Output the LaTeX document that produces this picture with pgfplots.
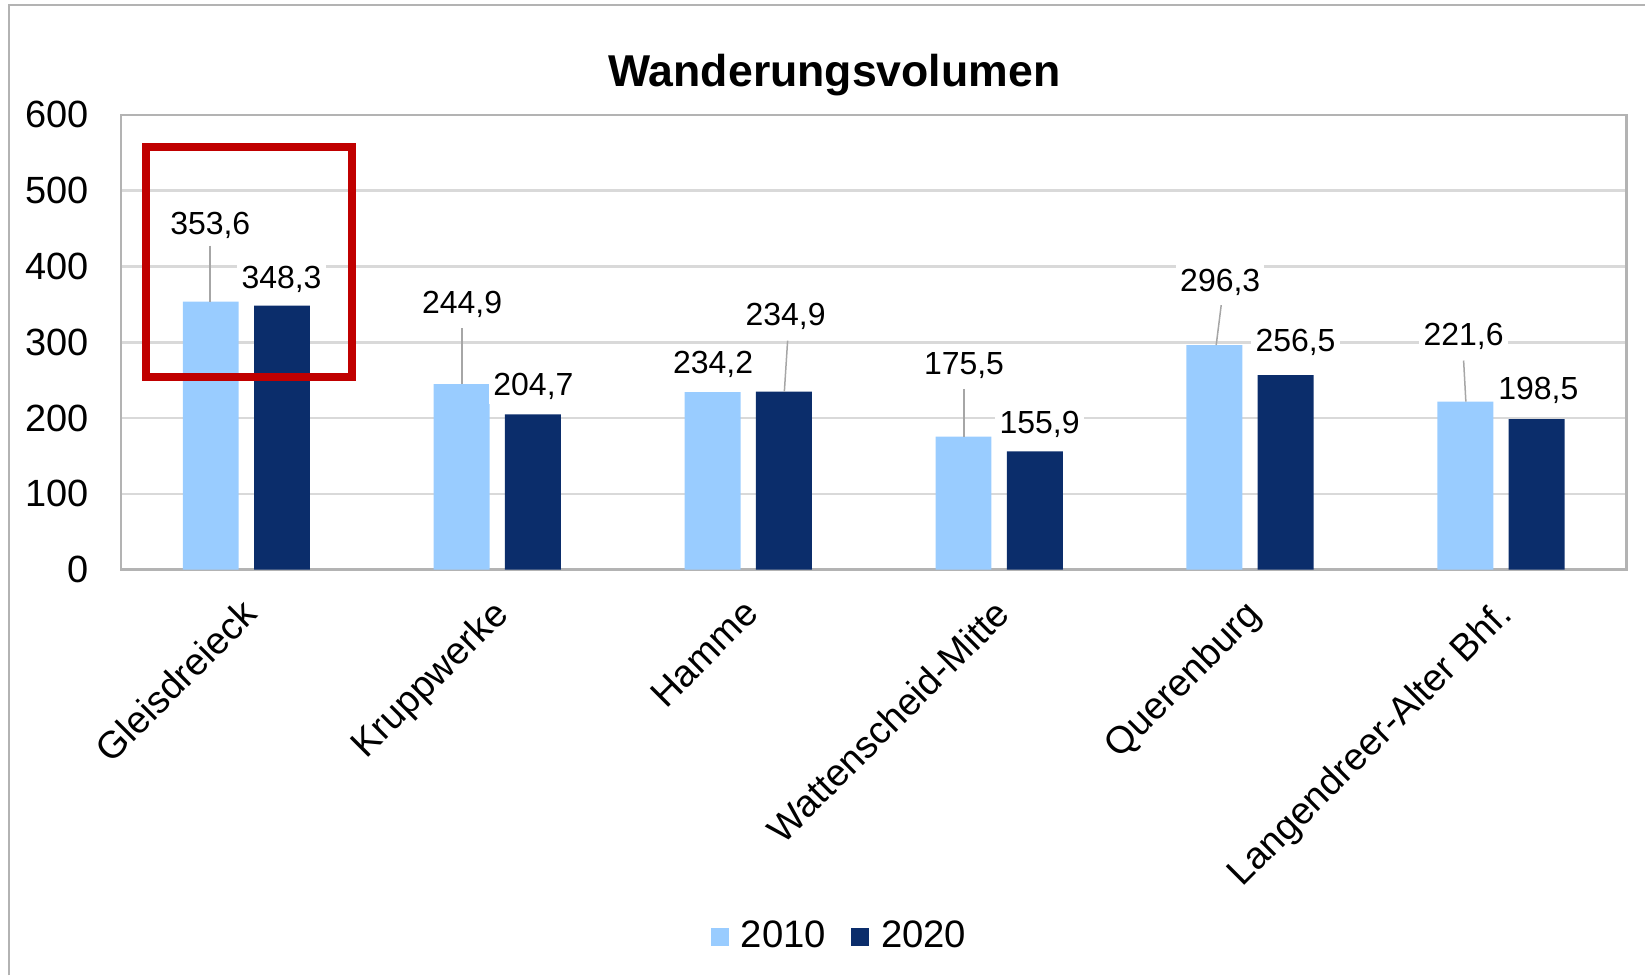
\documentclass[border=0pt]{standalone}
\usepackage{pgfplots}
\pgfplotsset{compat=1.18}
\usepackage{fontspec}
\setmainfont{Liberation Sans}
\definecolor{lightbar}{HTML}{99CCFF}
\definecolor{darkbar}{HTML}{0B2D6B}
\definecolor{framegray}{HTML}{B3B3B3}
\definecolor{gridgray}{HTML}{D9D9D9}
\definecolor{boxred}{HTML}{C00000}
\definecolor{leader}{HTML}{A6A6A6}
\begin{document}
\begin{tikzpicture}
\path (0mm,0mm) rectangle (164.6mm,97.6mm);
\draw[framegray, line width=0.25mm] (0.9mm,0mm) -- (0.9mm,97.1mm) -- (164.6mm,97.1mm);
\node[font=\fontsize{12.7}{15}\selectfont\bfseries] at (83.5mm,90.1mm) {Wanderungsvolumen};
\begin{axis}[
  at={(12.1mm,40.6mm)}, anchor=south west,
  scale only axis, width=150.67mm, height=45.5mm,
  xmin=-0.5, xmax=5.5, ymin=0, ymax=600,
  ytick={0,100,...,600},
  xtick={0,1,2,3,4,5},
  xticklabels={Gleisdreieck,Kruppwerke,Hamme,Wattenscheid-Mitte,Querenburg,Langendreer-Alter Bhf.},
  major tick length=0pt,
  ymajorgrids,
  grid style={gridgray, line width=0.25mm},
  axis line style={framegray, line width=0.25mm},
  /pgf/number format/assume math mode=true,
  yticklabel style={font=\fontsize{10.8}{13}\selectfont, xshift=-2mm},
  xticklabel style={font=\fontsize{10.8}{13}\selectfont, rotate=45, anchor=north east, inner sep=1pt, yshift=-1.05mm, xshift=-2.0mm},
  clip=false,
  legend style={at={(0.479,-0.808)}, anchor=center, draw=none, fill=none,
    legend columns=2, font=\fontsize{10.9}{12}\selectfont,
    /tikz/every even column/.append style={column sep=1.8mm},
    /tikz/every odd column/.append style={column sep=0.5mm}},
]
\addplot[ybar, bar width=0.223, bar shift=-0.142, fill=lightbar, draw=none,
  legend image code/.code={\fill[lightbar] (0mm,-0.9mm) rectangle (1.8mm,0.9mm);}]
  coordinates {(0,353.6) (1,244.9) (2,234.2) (3,175.5) (4,296.3) (5,221.6)};
\addlegendentry{2010}
\addplot[ybar, bar width=0.223, bar shift=0.142, fill=darkbar, draw=none,
  legend image code/.code={\fill[darkbar] (0mm,-0.9mm) rectangle (1.8mm,0.9mm);}]
  coordinates {(0,348.3) (1,204.7) (2,234.9) (3,155.9) (4,256.5) (5,198.5)};
\addlegendentry{2020}
% leader lines
\draw[leader, line width=0.15mm] (axis cs:-0.144,427.6) -- (axis cs:-0.144,353.6);
\draw[leader, line width=0.15mm] (axis cs:0.860,318.6) -- (axis cs:0.860,244.9);
\draw[leader, line width=0.15mm] (axis cs:2.157,302.1) -- (axis cs:2.144,234.9);
\draw[leader, line width=0.15mm] (axis cs:2.860,238.6) -- (axis cs:2.860,175.5);
\draw[leader, line width=0.15mm] (axis cs:3.885,349.0) -- (axis cs:3.865,296.3);
\draw[leader, line width=0.15mm] (axis cs:4.851,275.9) -- (axis cs:4.860,221.6);
% data labels
\begin{scope}[every node/.style={fill=white, inner sep=1.2pt, font=\fontsize{9.1}{11}\selectfont}]
\node at (axis cs:-0.144,453.8) {353,6};
\node at (axis cs:0.140,383.4) {348,3};
\node at (axis cs:0.860,350.3) {244,9};
\node at (axis cs:1.144,241.4) {204,7};
\node at (axis cs:1.860,270.3) {234,2};
\node at (axis cs:2.149,333.8) {234,9};
\node at (axis cs:2.860,269.0) {175,5};
\node at (axis cs:3.161,191.7) {155,9};
\node at (axis cs:3.881,379.3) {296,3};
\node at (axis cs:4.181,299.3) {256,5};
\node at (axis cs:4.851,307.6) {221,6};
\node at (axis cs:5.149,235.9) {198,5};
\end{scope}
\draw[boxred, line width=0.8mm] (axis cs:-0.401,557.4) rectangle (axis cs:0.420,254.1);
\end{axis}
\end{tikzpicture}
\end{document}
